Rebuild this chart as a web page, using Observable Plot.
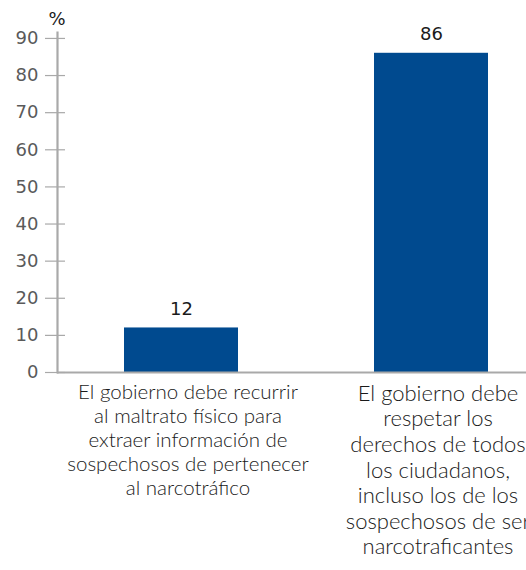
<!DOCTYPE html>
<html>
<head>
<meta charset="utf-8">
<script src="https://cdn.jsdelivr.net/npm/d3@7"></script>
<script src="https://cdn.jsdelivr.net/npm/@observablehq/plot@0.6"></script>
<style>
  html, body { margin: 0; padding: 0; background: #fff; overflow: hidden; }
</style>
</head>
<body>
<div id="chart"></div>
<script>
const categories = [
  "El gobierno debe recurrir\nal maltrato físico para\nextraer información de\nsospechosos de pertenecer\nal narcotráfico",
  "El gobierno debe\nrespetar los\nderechos de todos\nlos ciudadanos,\nincluso los de los\nsospechosos de ser\nnarcotraficantes"
];
const values = [12, 86];
const labelSizes = [20.5, 22];
const yTicks = [0, 10, 20, 30, 40, 50, 60, 70, 80, 90];
const yUnit = "%";

const data = categories.map((c, i) => ({category: c, value: values[i]}));

const barColor = "#004a8f";
const axisColor = "#a9a9a9";

const chart = Plot.plot({
  width: 526,
  height: 570,
  marginLeft: 57,
  marginRight: 0,
  marginTop: 32,
  marginBottom: 198,
  x: {domain: categories, range: [57, 555], paddingInner: 0.544, paddingOuter: 0.268, align: 0.5},
  y: {domain: [0, 91.6]},
  style: {background: "#fff"},
  marks: [
    Plot.barY(data, {x: "category", y: "value", fill: barColor}),
    Plot.text(data, {x: "category", y: "value", text: d => String(d.value), dy: -19,
      fontSize: 18, fontFamily: "DejaVu Sans", fill: "#1a1a1a"}),
    Plot.axisY({ticks: yTicks, tickSize: 20, tickPadding: 7, dx: 8, tickFormat: d => String(d),
      stroke: axisColor, fill: "#5a5a5a", fontSize: 18, fontFamily: "DejaVu Sans", label: null, strokeWidth: 1.2}),
    Plot.frame({anchor: "left", stroke: axisColor, strokeWidth: 2.2}),
    Plot.ruleY([0], {stroke: axisColor, strokeWidth: 2.2}),
    Plot.axisX({tickSize: 0, tickPadding: 10, dx: 6.5, label: null, lineHeight: 1.165, lineAnchor: "top",
      fontSize: d => labelSizes[categories.indexOf(d)], fontWeight: 300, fontFamily: "Lato", fill: "#1a1a1a"}),
    Plot.text([yUnit], {frameAnchor: "top-left", dx: -9, dy: -20, fontSize: 18, fontFamily: "DejaVu Sans", fill: "#1a1a1a"})
  ]
});
document.getElementById("chart").appendChild(chart);
</script>
</body>
</html>
